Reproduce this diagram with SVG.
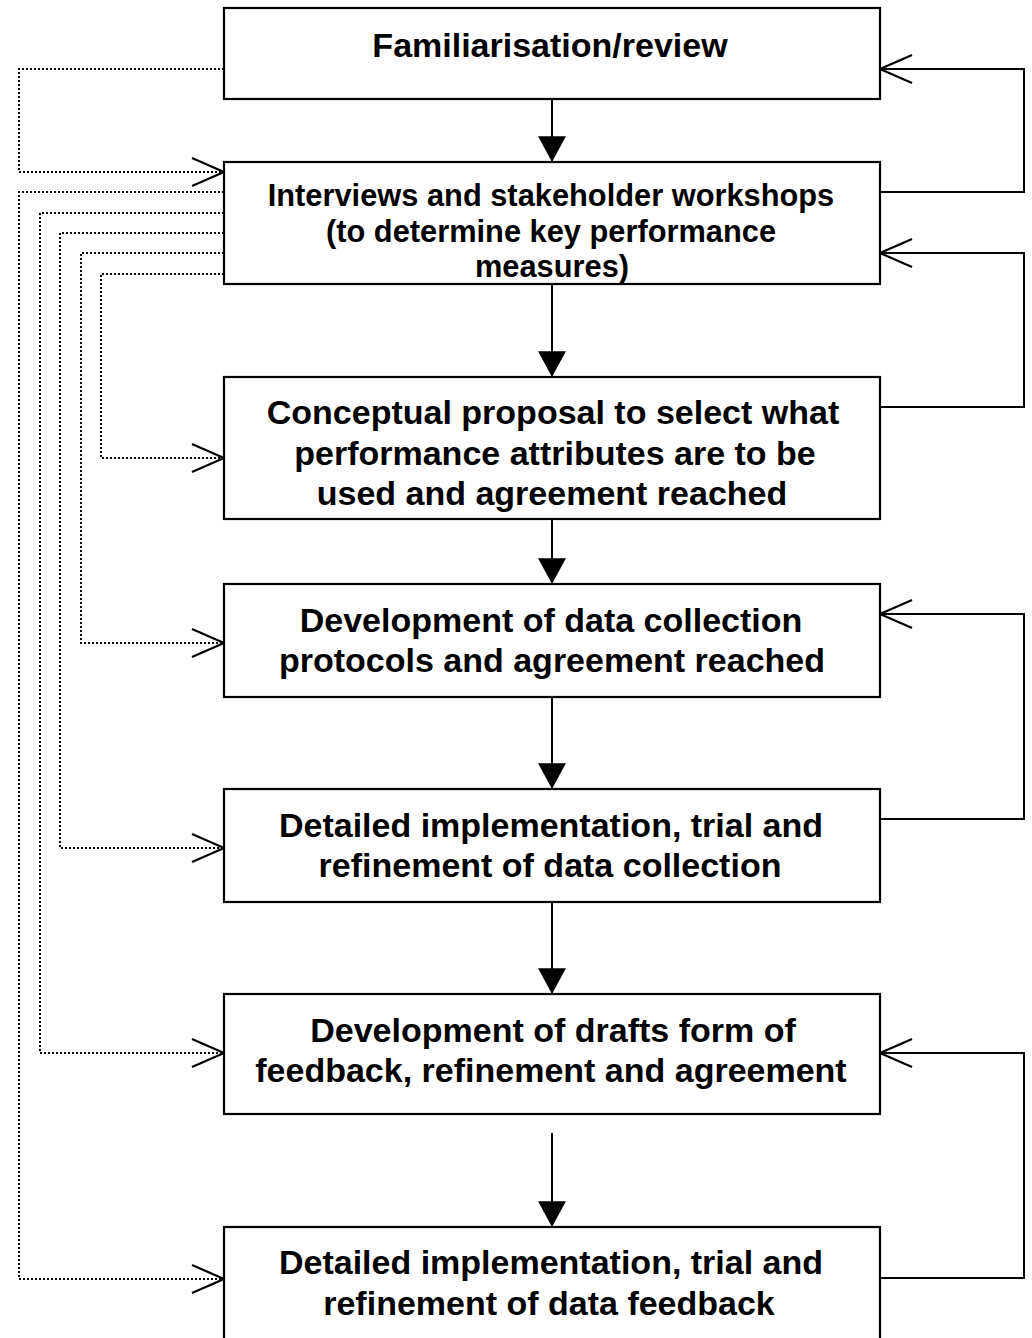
<svg xmlns="http://www.w3.org/2000/svg" width="1032" height="1338" viewBox="0 0 1032 1338">
<style>
.box{fill:#fff;stroke:#000;stroke-width:2.2}
.t{font-family:"Liberation Sans",Arial,sans-serif;font-weight:bold;font-size:34px;fill:#000;text-anchor:middle}
.s{font-size:30.8px}
.down{fill:none;stroke:#000;stroke-width:2;marker-end:url(#tri)}
.fb{fill:none;stroke:#000;stroke-width:2;marker-end:url(#vee)}
.dot{fill:none;stroke:#000;stroke-width:2;stroke-dasharray:2 2;marker-end:url(#vee)}
</style>
<defs>
<marker id="tri" markerUnits="userSpaceOnUse" markerWidth="30" markerHeight="30" viewBox="-25 -14 26 28" refX="0" refY="0" orient="auto" overflow="visible">
<path d="M0,0 L-24,-13 L-24,13 Z" fill="#000" stroke="none"/>
</marker>
<marker id="vee" markerUnits="userSpaceOnUse" markerWidth="40" markerHeight="32" viewBox="-34 -16 36 32" refX="0" refY="0" orient="auto" overflow="visible">
<path d="M-32,-14 L0,0 L-32,14" fill="none" stroke="#000" stroke-width="2.2" stroke-dasharray="none"/>
</marker>
</defs>
<rect width="1032" height="1338" fill="#fff"/>
<g id="connectors">
<path class="down" d="M552,99 V162"/>
<path class="down" d="M552,284 V377"/>
<path class="down" d="M552,519 V584"/>
<path class="down" d="M552,697 V789"/>
<path class="down" d="M552,902 V994"/>
<path class="down" d="M552,1133 V1227"/>
<path class="fb" d="M880,192 H1024 V69 H880"/>
<path class="fb" d="M880,407 H1024 V253 H880"/>
<path class="fb" d="M880,819 H1024 V614 H880"/>
<path class="fb" d="M880,1278 H1024 V1053 H880"/>
<path class="dot" d="M224,69 H19 V172 H224"/>
<path class="dot" d="M224,192 H19 V1279 H224"/>
<path class="dot" d="M224,213 H40 V1053 H224"/>
<path class="dot" d="M224,233 H60 V848 H224"/>
<path class="dot" d="M224,253 H81 V643 H224"/>
<path class="dot" d="M224,274 H101 V458 H224"/>
</g>
<g id="n1">
<rect class="box" x="224" y="8" width="656" height="91"/>
<text class="t" x="550" y="57">Familiarisation/review</text>
</g>
<g id="n2">
<rect class="box" x="224" y="162" width="656" height="122"/>
<text class="t s" x="551" y="206">Interviews and stakeholder workshops</text>
<text class="t s" x="551" y="242">(to determine key performance</text>
<text class="t s" x="552" y="277">measures)</text>
</g>
<g id="n3">
<rect class="box" x="224" y="377" width="656" height="142"/>
<text class="t" x="553" y="424">Conceptual proposal to select what</text>
<text class="t" x="555" y="465">performance attributes are to be</text>
<text class="t" x="552" y="505">used and agreement reached</text>
</g>
<g id="n4">
<rect class="box" x="224" y="584" width="656" height="113"/>
<text class="t" x="551" y="632">Development of data collection</text>
<text class="t" x="552" y="672">protocols and agreement reached</text>
</g>
<g id="n5">
<rect class="box" x="224" y="789" width="656" height="113"/>
<text class="t" x="551" y="837">Detailed implementation, trial and</text>
<text class="t" x="550" y="877">refinement of data collection</text>
</g>
<g id="n6">
<rect class="box" x="224" y="994" width="656" height="120"/>
<text class="t" x="553" y="1042">Development of drafts form of</text>
<text class="t" x="551" y="1082">feedback, refinement and agreement</text>
</g>
<g id="n7">
<rect class="box" x="224" y="1227" width="656" height="120"/>
<text class="t" x="551" y="1274">Detailed implementation, trial and</text>
<text class="t" x="549" y="1315">refinement of data feedback</text>
</g>
</svg>
